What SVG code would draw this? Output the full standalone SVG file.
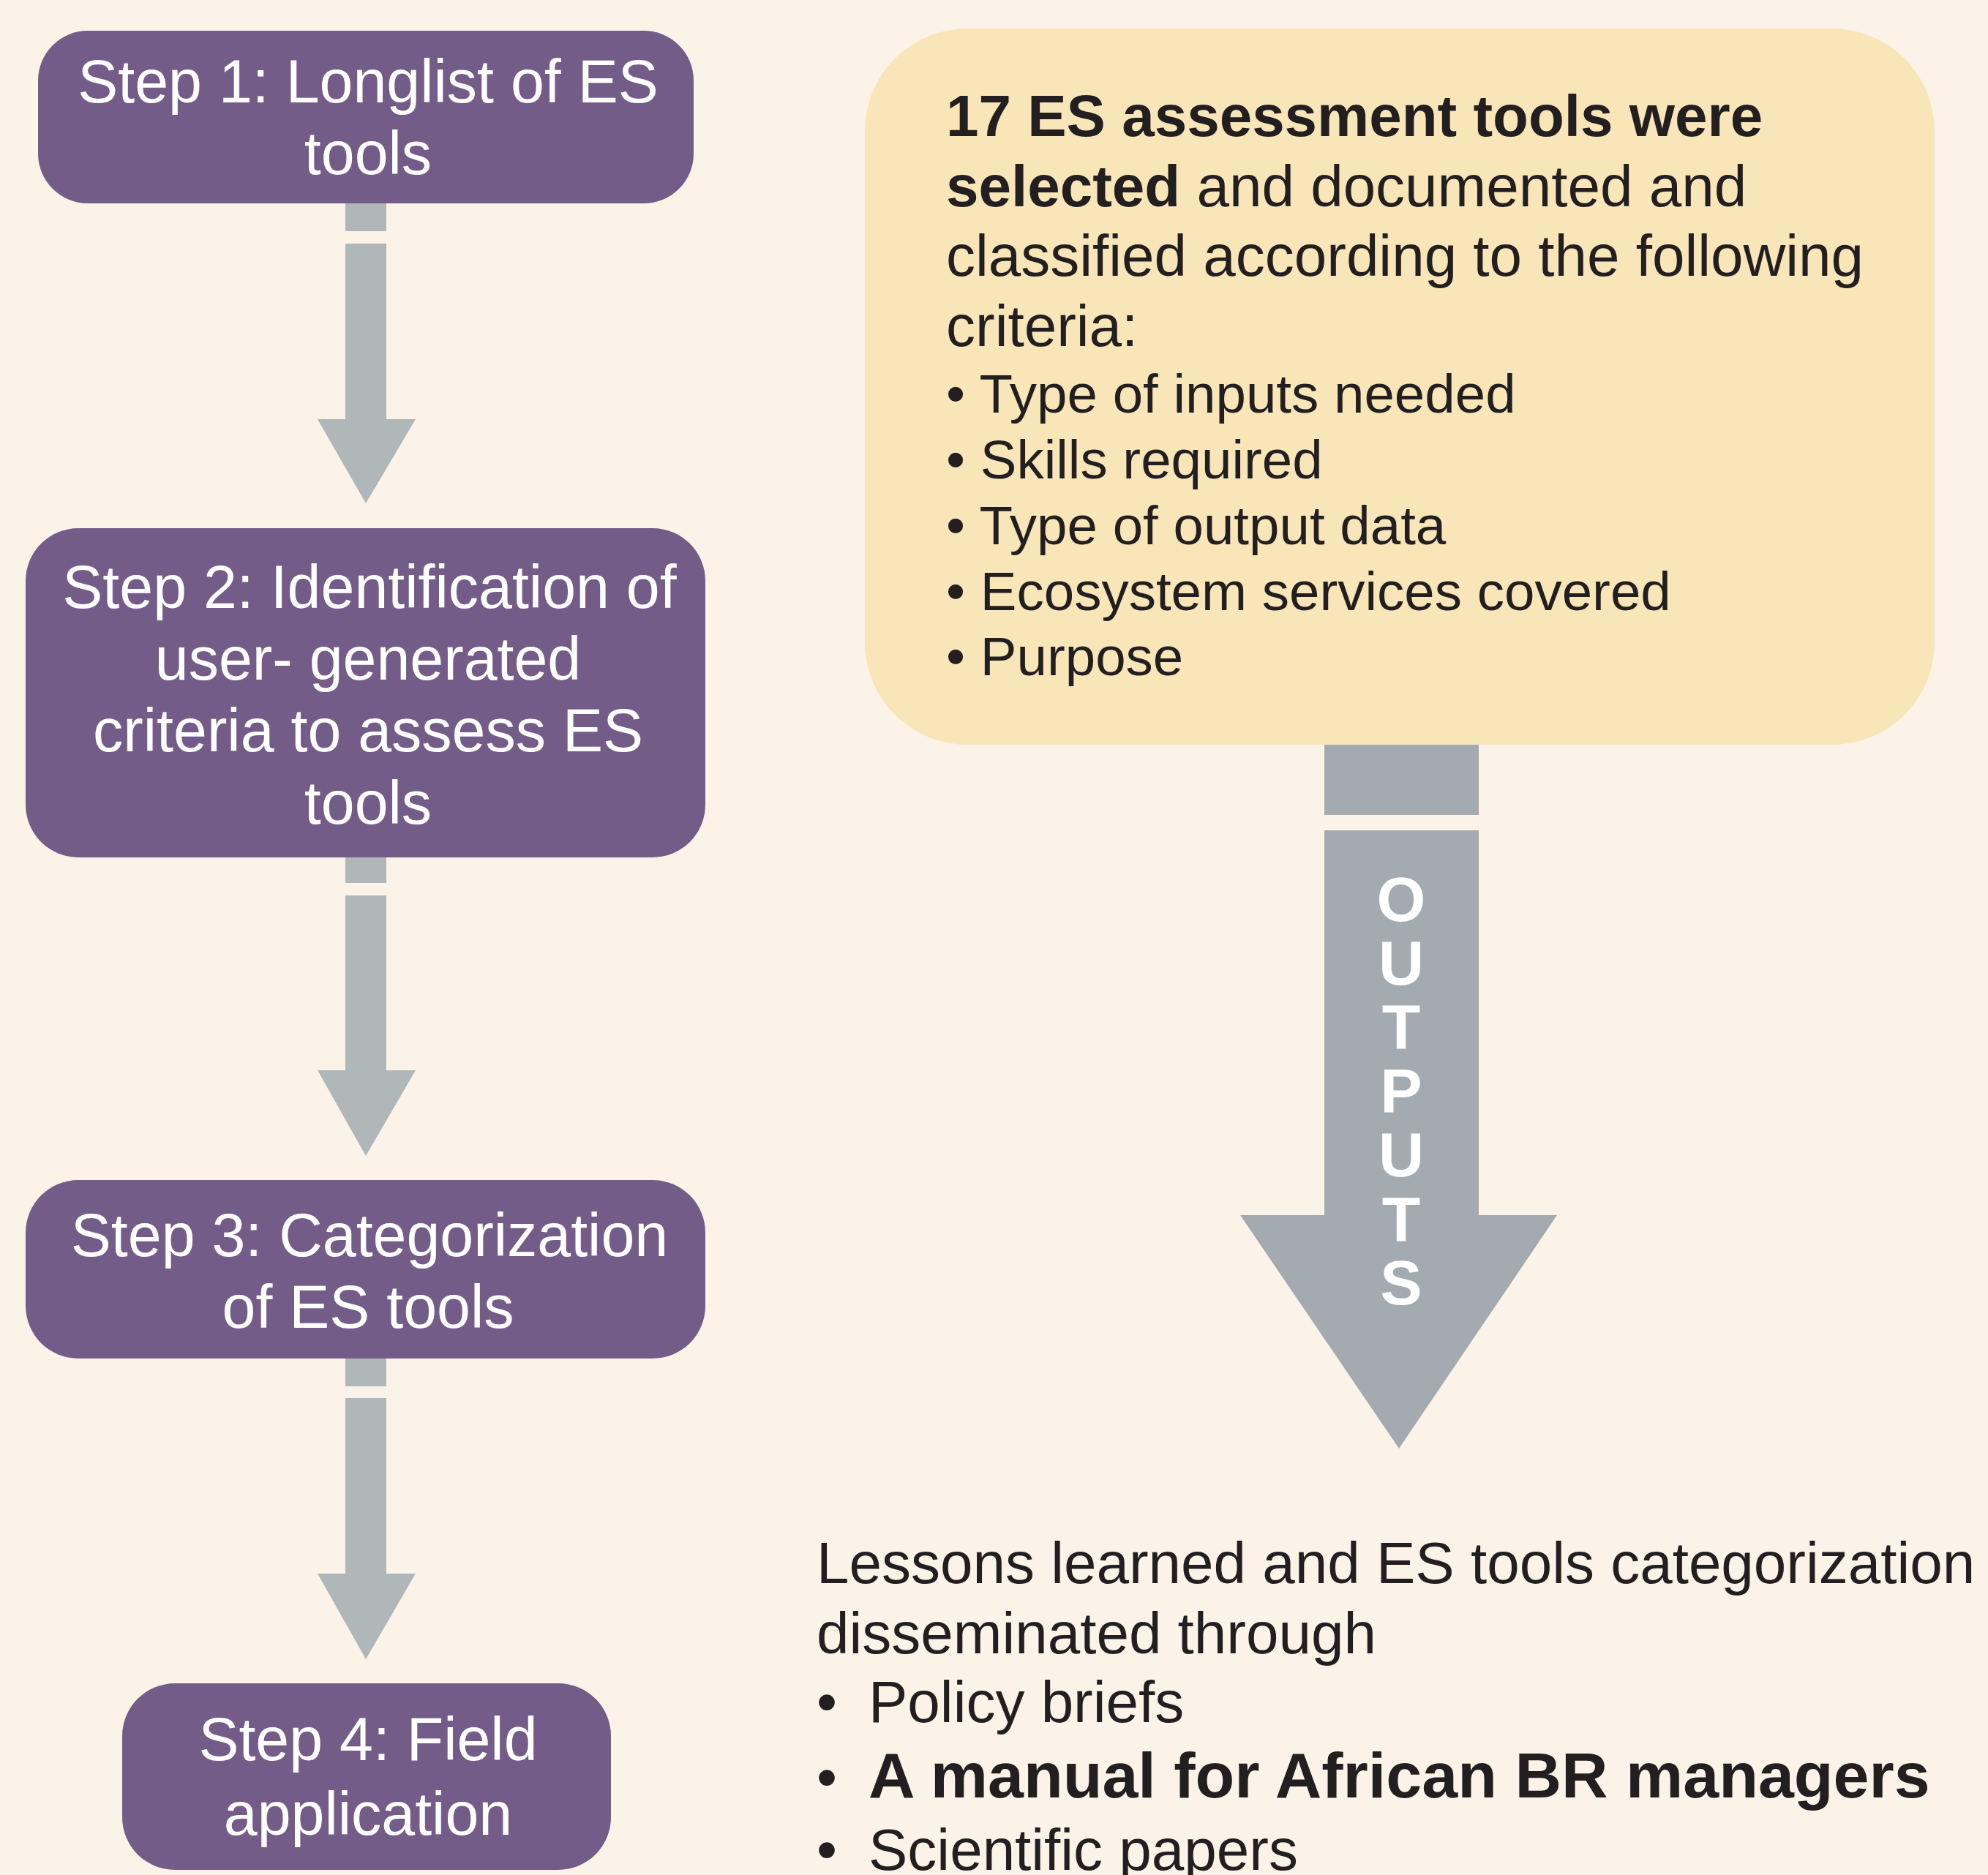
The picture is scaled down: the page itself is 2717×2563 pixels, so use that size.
<svg xmlns="http://www.w3.org/2000/svg" width="2717" height="2563" viewBox="0 0 2717 2563">
<style>
.step{fill:#745c89}
.st{font-family:"Liberation Sans",Arial,sans-serif;font-size:82.5px;fill:#ffffff;text-anchor:middle}
.body{font-family:"Liberation Sans",Arial,sans-serif;font-size:80px;fill:#231f20}
.bul{font-size:74.5px}
.b{font-weight:bold}
.la{fill:#b0b7b8}
.ra{fill:#a3abb1}
.out{font-family:"Liberation Sans",Arial,sans-serif;font-size:86px;font-weight:bold;fill:#ffffff;text-anchor:middle}
</style>
<rect x="0" y="0" width="2717" height="2563" fill="#fbf3e8"/>
<g id="connectors">
  <g id="arrow1">
    <rect class="la" x="472" y="277" width="56" height="39"/>
    <polygon class="la" points="472,333 528,333 528,573 568,573 500,688 434,573 472,573"/>
  </g>
  <g id="arrow2">
    <rect class="la" x="472" y="1171" width="56" height="36"/>
    <polygon class="la" points="472,1224 528,1224 528,1463 568,1463 500,1580 434,1463 472,1463"/>
  </g>
  <g id="arrow3">
    <rect class="la" x="472" y="1856" width="56" height="39"/>
    <polygon class="la" points="472,1911 528,1911 528,2151 568,2151 500,2268 434,2151 472,2151"/>
  </g>
  <g id="outputs-arrow">
    <rect class="ra" x="1810" y="1016" width="211" height="98"/>
    <polygon class="ra" points="1810,1135 2021,1135 2021,1661 2128,1661 1912,1980 1695,1661 1810,1661"/>
    <text class="out" x="1915" y="1259">O</text>
    <text class="out" x="1915" y="1346">U</text>
    <text class="out" x="1915" y="1433">T</text>
    <text class="out" x="1915" y="1521">P</text>
    <text class="out" x="1915" y="1608">U</text>
    <text class="out" x="1915" y="1696">T</text>
    <text class="out" x="1915" y="1783">S</text>
  </g>
</g>
<g id="step1">
  <rect class="step" x="52" y="42" width="896" height="236" rx="68" ry="68"/>
  <text class="st" x="503" y="140">Step 1: Longlist of ES</text>
  <text class="st" x="503" y="238">tools</text>
</g>
<g id="step2">
  <rect class="step" x="35" y="722" width="929" height="450" rx="72" ry="72"/>
  <text class="st" x="505" y="831">Step 2: Identification of</text>
  <text class="st" x="503" y="929">user- generated</text>
  <text class="st" x="503" y="1027">criteria to assess ES</text>
  <text class="st" x="503" y="1126">tools</text>
</g>
<g id="step3">
  <rect class="step" x="35" y="1613" width="929" height="244" rx="72" ry="72"/>
  <text class="st" x="505" y="1717">Step 3: Categorization</text>
  <text class="st" x="503" y="1815">of ES tools</text>
</g>
<g id="step4">
  <rect class="step" x="167" y="2301" width="668" height="255" rx="72" ry="72"/>
  <text class="st" x="503" y="2406">Step 4: Field</text>
  <text class="st" x="503" y="2508">application</text>
</g>
<g id="selection-box">
  <rect x="1182" y="39" width="1462" height="979" rx="140" ry="140" fill="#f8e5b8"/>
  <text class="body" x="1293" y="186"><tspan class="b">17 ES assessment tools were</tspan></text>
  <text class="body" x="1293" y="282"><tspan class="b">selected</tspan> and documented and</text>
  <text class="body" x="1293" y="377">classified according to the following</text>
  <text class="body" x="1293" y="473">criteria:</text>
  <text class="body bul" x="1293" y="564">• Type of inputs needed</text>
  <text class="body bul" x="1293" y="654">• Skills required</text>
  <text class="body bul" x="1293" y="744">• Type of output data</text>
  <text class="body bul" x="1293" y="834">• Ecosystem services covered</text>
  <text class="body bul" x="1293" y="923">• Purpose</text>
</g>
<g id="dissemination">
  <text class="body" x="1116" y="2164">Lessons learned and ES tools categorization</text>
  <text class="body" x="1116" y="2260">disseminated through</text>
  <text class="body" x="1116" y="2354">•</text>
  <text class="body" x="1187" y="2354">Policy briefs</text>
  <text class="body" x="1116" y="2457">•</text>
  <text class="body b" x="1187" y="2457" style="font-size:88px">A manual for African BR managers</text>
  <text class="body" x="1116" y="2556">•</text>
  <text class="body" x="1187" y="2556">Scientific papers</text>
</g>
</svg>
